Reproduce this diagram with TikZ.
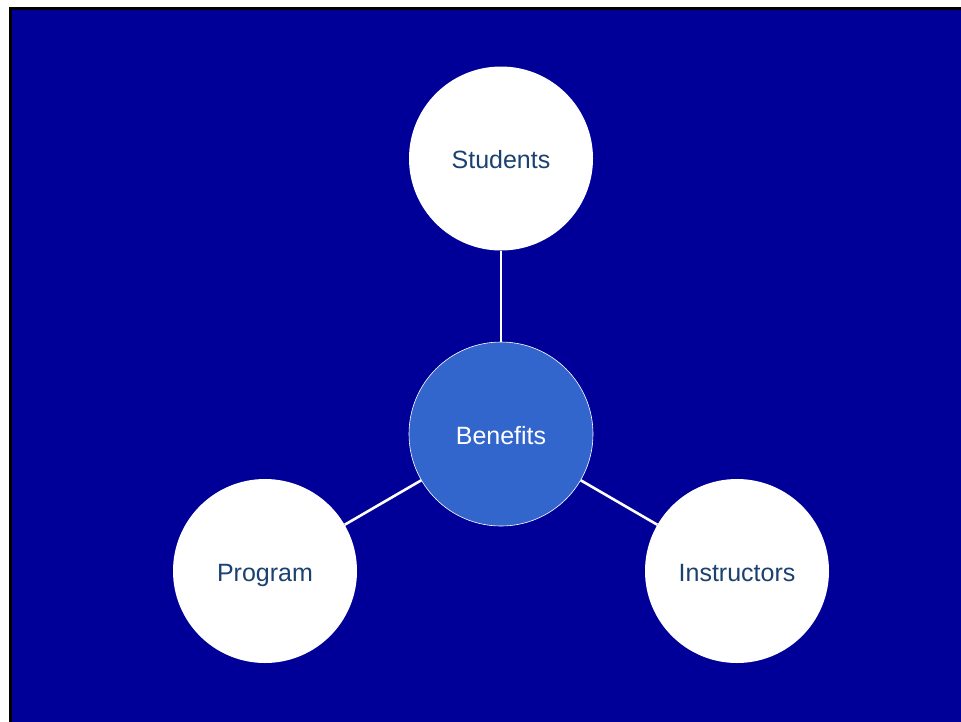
\documentclass[tikz,border=0pt]{standalone}
\usepackage{fontspec}
\setmainfont{Liberation Sans}
\usepackage{tikz}
\usetikzlibrary{positioning}

\definecolor{slideblue}{HTML}{000099}
\definecolor{hubblue}{HTML}{3366CC}
\definecolor{labelnavy}{HTML}{1A4170}

\begin{document}
\begin{tikzpicture}[x=1pt,y=-1pt]
        % Styles
        \tikzstyle{spoke} = [circle,fill=white,inner sep=0pt,
        minimum size=184pt, text height=20pt, text depth=0pt,
        text=labelnavy, font=\fontsize{25}{29}\selectfont]
        \tikzstyle{hub} = [spoke,fill=hubblue,draw=white,line width=0.6pt,text=white]
        \tikzstyle{link} = [draw=white,line width=2.6pt]

        % Background
        \useasboundingbox (0,0) rectangle (961,721);
        \draw[fill=slideblue,draw=black,line width=3pt] (10.5,8.5) rectangle (975,735);

        % Nodes
        \node (benefits)    [hub] at (501,434)              {Benefits};
        \node (students)    [spoke, above=91pt of benefits] {Students};
        \node (program)     [spoke] at (265,571)            {Program};
        \node (instructors) [spoke] at (737,571)            {Instructors};

        % Edges
        \draw[link] (benefits) -- (students);
        \draw[link] (benefits) -- (program);
        \draw[link] (benefits) -- (instructors);

    \end{tikzpicture}
\end{document}
